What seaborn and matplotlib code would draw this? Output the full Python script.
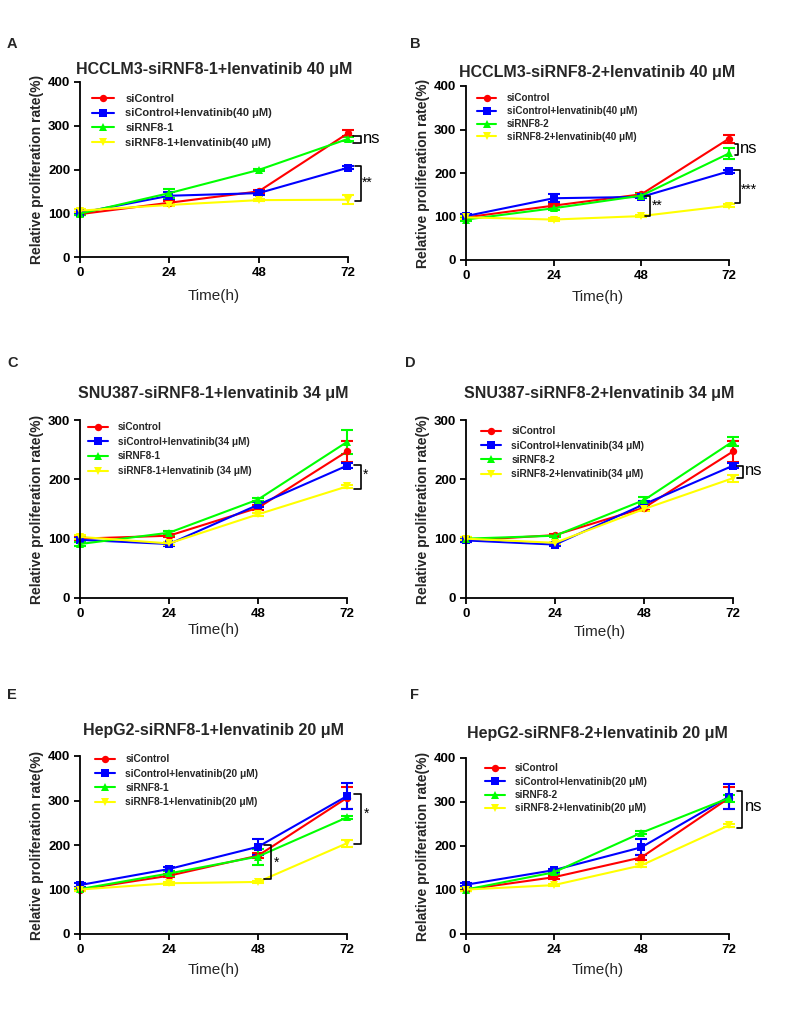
import matplotlib
matplotlib.use("Agg")
import matplotlib.pyplot as plt
import numpy as np
import pandas as pd
import seaborn as sns

sns.set_style("ticks")
plt.rcParams["font.family"] = ["Liberation Sans", "DejaVu Sans"]

# ---------------- data ----------------
times = [0, 24, 48, 72]
colors = ["#FF0000", "#0000FF", "#00FF00", "#FFFF00"]
marker_styles = ["o", "s", "^", "v"]

# Panel A
A_title = "HCCLM3-siRNF8-1+lenvatinib 40 μM"
A_labels = ["siControl", "siControl+lenvatinib(40 μM)", "siRNF8-1", "siRNF8-1+lenvatinib(40 μM)"]
A_vals = [[98, 124, 150, 283], [101, 140, 146, 204], [99, 146, 199, 270], [106, 119, 130, 131]]
A_errs = [[3, 3, 4, 7], [3, 8, 4, 3], [3, 10, 3, 4], [3, 3, 3, 10]]
A_ymax = 400

# Panel B
B_title = "HCCLM3-siRNF8-2+lenvatinib 40 μM"
B_labels = ["siControl", "siControl+lenvatinib(40 μM)", "siRNF8-2", "siRNF8-2+lenvatinib(40 μM)"]
B_vals = [[98, 125, 151, 279], [101, 142, 145, 204], [93, 119, 148, 245], [98, 93, 101, 125]]
B_errs = [[3, 4, 3, 9], [4, 9, 3, 3], [4, 4, 3, 13], [3, 3, 3, 3]]
B_ymax = 400

# Panel C
C_title = "SNU387-siRNF8-1+lenvatinib 34 μM"
C_labels = ["siControl", "siControl+lenvatinib(34 μM)", "siRNF8-1", "siRNF8-1+lenvatinib (34 μM)"]
C_vals = [[100, 105, 152, 247], [98, 91, 157, 223], [91, 110, 166, 263], [103, 92, 141, 188]]
C_errs = [[3, 3, 4, 18], [3, 3, 4, 4], [4, 3, 3, 20], [3, 2, 3, 3]]
C_ymax = 300

# Panel D
D_title = "SNU387-siRNF8-2+lenvatinib 34 μM"
D_labels = ["siControl", "siControl+lenvatinib(34 μM)", "siRNF8-2", "siRNF8-2+lenvatinib(34 μM)"]
D_vals = [[97, 106, 152, 247], [97, 90, 158, 223], [100, 105, 165, 264], [100, 93, 150, 202]]
D_errs = [[3, 2, 3, 18], [3, 2, 5, 4], [2, 2, 6, 8], [3, 2, 3, 6]]
D_ymax = 300

# Panel E
E_title = "HepG2-siRNF8-1+lenvatinib 20 μM"
E_labels = ["siControl", "siControl+lenvatinib(20 μM)", "siRNF8-1", "siRNF8-1+lenvatinib(20 μM)"]
E_vals = [[100, 131, 176, 306], [110, 146, 196, 310], [101, 136, 174, 262], [100, 114, 117, 204]]
E_errs = [[3, 3, 5, 25], [4, 4, 18, 30], [3, 5, 18, 3], [3, 3, 3, 8]]
E_ymax = 400

# Panel F
F_title = "HepG2-siRNF8-2+lenvatinib 20 μM"
F_labels = ["siControl", "siControl+lenvatinib(20 μM)", "siRNF8-2", "siRNF8-2+lenvatinib(20 μM)"]
F_vals = [[101, 129, 174, 309], [112, 145, 197, 312], [101, 140, 230, 309], [101, 111, 156, 247]]
F_errs = [[3, 3, 6, 25], [4, 3, 18, 28], [3, 3, 3, 8], [3, 3, 3, 3]]
F_ymax = 400

# significance brackets: (x0, x1, y_top, y_bottom, text, text_x, text_y, fontsize)
A_sig = [(73.4, 75.4, 276, 260, "ns", 76.0, 270, 12), (73.8, 75.4, 208, 128, "**", 75.6, 170, 10)]
B_sig = [(73.6, 74.6, 266, 241, "ns", 75.0, 256, 12), (73.6, 75.0, 207, 130, "***", 75.3, 162, 10),
         (49.0, 50.5, 147, 101, "**", 50.8, 124, 10)]
C_sig = [(73.8, 75.8, 224, 183, "*", 76.4, 208, 10)]
D_sig = [(73.1, 74.6, 223, 203, "ns", 75.1, 215, 12)]
E_sig = [(73.8, 75.8, 314, 203, "*", 76.6, 270, 10), (49.5, 51.5, 201, 123, "*", 52.3, 160, 10)]
F_sig = [(74.1, 75.6, 325, 242, "ns", 76.3, 290, 12)]

panels = [
    ("A", A_title, A_labels, A_vals, A_errs, A_ymax, A_sig),
    ("B", B_title, B_labels, B_vals, B_errs, B_ymax, B_sig),
    ("C", C_title, C_labels, C_vals, C_errs, C_ymax, C_sig),
    ("D", D_title, D_labels, D_vals, D_errs, D_ymax, D_sig),
    ("E", E_title, E_labels, E_vals, E_errs, E_ymax, E_sig),
    ("F", F_title, F_labels, F_vals, F_errs, F_ymax, F_sig),
]

# ---------------- layout (pixels, fig 790x1023) ----------------
W, H = 790, 1023
axes_px = {  # left, right, top, bottom
    "A": (80, 348, 82, 257),
    "B": (466, 729, 86, 260),
    "C": (80, 347, 420, 598),
    "D": (466, 733, 420, 598),
    "E": (80, 347, 756, 934),
    "F": (466, 729, 758, 934),
}
title_pad = {"A": 5.5, "B": 6.5, "C": 15.5, "D": 16, "E": 15, "F": 14.5}
xlabel_pad = {"A": 7.3, "B": 6.0, "C": 2.3, "D": 3.7, "E": 5.0, "F": 5.0}
# legend: handle start x (px), first-row centre y (px), font size, label spacing
legend_geo = {
    "A": (92, 99, 8.0, 0.42),
    "B": (477, 98, 7.15, 0.29),
    "C": (88, 427, 7.2, 0.46),
    "D": (481, 431, 7.3, 0.43),
    "E": (95, 759, 7.3, 0.43),
    "F": (485, 768, 7.2, 0.34),
}
letter_pos = {"A": (7, 44), "B": (410, 44), "C": (7, 363), "D": (405, 363), "E": (7, 695), "F": (410, 695)}

fig = plt.figure(figsize=(W / 100, H / 100), dpi=100)

for key, title, labels, vals, errs, ymax, sigs in panels:
    l, r, t, b = axes_px[key]
    ax = fig.add_axes([l / W, 1 - b / H, (r - l) / W, (b - t) / H])

    rows = []
    for lab, v in zip(labels, vals):
        for tt, vv in zip(times, v):
            rows.append({"time": tt, "value": vv, "group": lab})
    df = pd.DataFrame(rows)

    # error bars first (below lines/markers)
    for i, (v, e) in enumerate(zip(vals, errs)):
        ax.errorbar(times, v, yerr=e, fmt="none", ecolor=colors[i], elinewidth=1.5,
                    capsize=4, capthick=1.5, zorder=1.5 + i * 0.01, clip_on=False)

    sns.lineplot(data=df, x="time", y="value", hue="group", style="group",
                 hue_order=labels, style_order=labels,
                 palette=dict(zip(labels, colors)),
                 markers=dict(zip(labels, marker_styles)), dashes=False,
                 linewidth=1.5, markersize=5.3, markeredgewidth=0,
                 ax=ax, legend="full", clip_on=False)

    for ln in ax.get_lines():
        ln.set_clip_on(False)

    ax.set_xlim(0, 72)
    ax.set_ylim(0, ymax)
    ax.set_xticks(times)
    ax.set_yticks(np.arange(0, ymax + 1, 100))
    sns.despine(ax=ax)
    for side in ("left", "bottom"):
        ax.spines[side].set_linewidth(1.3)
        ax.spines[side].set_color("black")
    ax.tick_params(direction="out", length=4.5, width=1.3, labelsize=9.5, pad=2.5, colors="black")
    for lab in ax.get_xticklabels() + ax.get_yticklabels():
        lab.set_fontweight("bold")

    ax.set_xlabel("Time(h)", fontsize=11, labelpad=xlabel_pad[key])
    ax.set_ylabel("Relative proliferation rate(%)", fontsize=10, fontweight="bold", labelpad=3)
    ax.set_title(title, fontsize=11.5, fontweight="bold", pad=title_pad[key])

    hx, hy, lfs, lsp = legend_geo[key]
    top_px = hy - 0.47 * lfs * 1.389
    anchor = ((hx - l) / (r - l), (b - top_px) / (b - t))
    handles, hlabels = ax.get_legend_handles_labels()
    ax.legend(handles, hlabels, loc="upper left", bbox_to_anchor=anchor,
              frameon=False, prop={"size": lfs, "weight": "bold"},
              handlelength=1.95, handletextpad=1.05, labelspacing=lsp,
              borderaxespad=0, borderpad=0)

    for (x0, x1, y0, y1, txt, tx, ty, fs) in sigs:
        ax.plot([x0, x1, x1, x0], [y0, y0, y1, y1], color="black", lw=1.2, clip_on=False)
        ax.text(tx, ty, txt, ha="left", va="center", fontsize=fs, color="black", clip_on=False)

    lx, ly = letter_pos[key]
    fig.text(lx / W, 1 - ly / H, key, fontsize=10.5, fontweight="bold", ha="left", va="center")

fig.savefig("out.png", dpi=100, facecolor="white")
